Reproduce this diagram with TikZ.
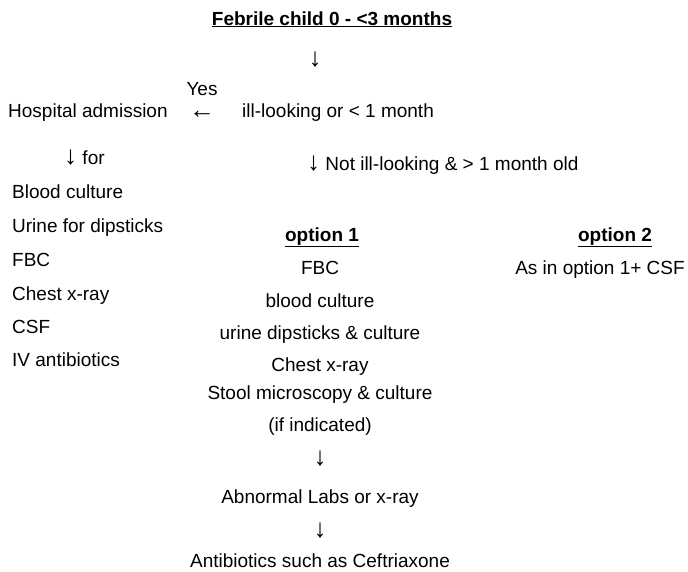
\documentclass[tikz,border=0pt]{standalone}
\usepackage{fontspec}
\setmainfont{Liberation Sans}
\usepackage{tikz}
\newcommand{\downarr}{{\fontsize{26}{26}\selectfont ↓}}
\newcommand{\leftarr}{{\fontsize{26}{26}\selectfont ←}}
\tikzstyle{txt}=[inner sep=0pt, font=\fontsize{19}{23}\selectfont]
\tikzstyle{left item}=[txt, anchor=base west]
\tikzstyle{mid item}=[txt, anchor=base]

\begin{document}
\begin{tikzpicture}[x=1pt, y=-1pt]
    \useasboundingbox (0, 0) rectangle (688, 571);
    \node[mid item] (title) at (332, 25) {\underline{\textbf{Febrile child 0 - <3 months}}};
    \node[mid item] (down1) at (315, 66) {\downarr};
    \node[mid item] (yes) at (202, 95) {Yes};
    \node[left item] (hosp) at (8, 117) {Hospital admission};
    \node[mid item] (left1) at (202, 118) {\leftarr};
    \node[left item] (ill) at (242, 117) {ill-looking or < 1 month};
    \node[left item] (for) at (64, 164) {\downarr\ for};
    \node[left item] (notill) at (307, 170) {\downarr\ Not ill-looking \& > 1 month old};
    % admission work-up
    \node[left item] (h1) at (12, 198) {Blood culture};
    \node[left item] (h2) at (12, 232.5) {Urine for dipsticks};
    \node[left item] (h3) at (12, 266.5) {FBC};
    \node[left item] (h4) at (12, 300) {Chest x-ray};
    \node[left item] (h5) at (12, 333) {CSF};
    \node[left item] (h6) at (12, 366) {IV antibiotics};
    % option 1
    \node[mid item] (opt1) at (322, 241) {\underline{\textbf{option 1}}};
    \node[mid item] (o1) at (320, 274) {FBC};
    \node[mid item] (o2) at (320, 307) {blood culture};
    \node[mid item] (o3) at (320, 339) {urine dipsticks \& culture};
    \node[mid item] (o4) at (320, 371) {Chest x-ray};
    \node[mid item] (o5) at (320, 399) {Stool microscopy \& culture};
    \node[mid item] (o6) at (320, 431) {(if indicated)};
    \node[mid item] (down2) at (320, 465) {\downarr};
    \node[mid item] (labs) at (320, 503) {Abnormal Labs or x-ray};
    \node[mid item] (down3) at (320, 537) {\downarr};
    \node[mid item] (abx) at (320, 567) {Antibiotics such as Ceftriaxone};
    % option 2
    \node[mid item] (opt2) at (615, 241) {\underline{\textbf{option 2}}};
    \node[mid item] (p1) at (600, 274) {As in option 1+ CSF};
\end{tikzpicture}
\end{document}
